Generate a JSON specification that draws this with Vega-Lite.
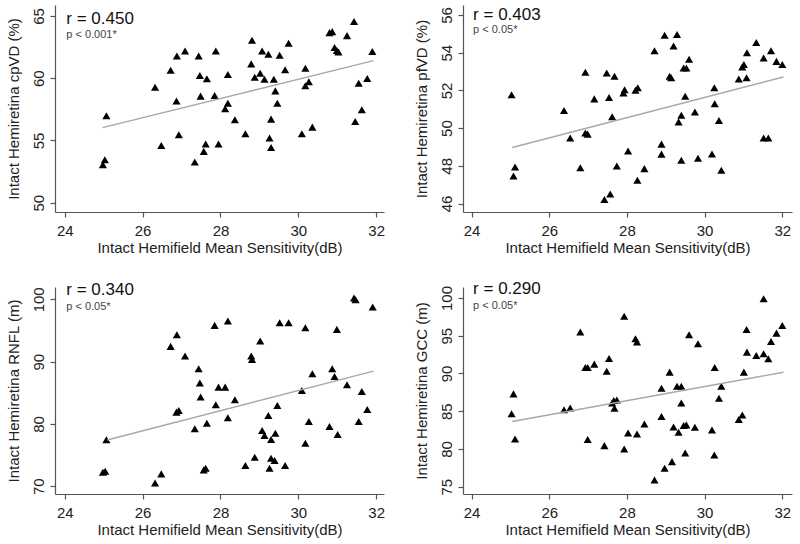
{
  "$schema": "https://vega.github.io/schema/vega-lite/v6.json",
  "padding": {"left": 6, "top": 5, "right": 5, "bottom": 5},
  "background": "white",
  "columns": 2,
  "spacing": {"column": 79, "row": 75},
  "bounds": "flush",
  "datasets": {
    "p1": [
      {"x":25.07,"y":56.98},{"x":25.03,"y":53.45},{"x":24.98,"y":53.05},{"x":26.32,"y":59.28},{"x":26.48,"y":54.6},{"x":26.72,"y":60.64},{"x":26.87,"y":58.16},{"x":26.88,"y":61.79},{"x":26.93,"y":55.45},{"x":27.09,"y":62.19},{"x":27.34,"y":53.26},{"x":27.44,"y":61.79},{"x":27.47,"y":60.21},{"x":27.49,"y":58.56},{"x":27.57,"y":54.12},{"x":27.62,"y":54.71},{"x":27.65,"y":59.95},{"x":27.85,"y":58.61},{"x":27.88,"y":62.19},{"x":27.95,"y":54.71},{"x":28.12,"y":57.54},{"x":28.19,"y":57.99},{"x":28.19,"y":60.29},{"x":28.37,"y":56.66},{"x":28.64,"y":55.53},{"x":28.79,"y":61.15},{"x":28.81,"y":63.05},{"x":28.88,"y":60.08},{"x":29.02,"y":60.4},{"x":29.07,"y":62.19},{"x":29.13,"y":59.92},{"x":29.23,"y":61.93},{"x":29.26,"y":55.19},{"x":29.3,"y":56.71},{"x":29.3,"y":54.44},{"x":29.37,"y":59.92},{"x":29.41,"y":58.98},{"x":29.46,"y":57.99},{"x":29.52,"y":61.84},{"x":29.66,"y":60.67},{"x":29.75,"y":62.81},{"x":30.09,"y":55.53},{"x":30.18,"y":60.8},{"x":30.18,"y":59.39},{"x":30.27,"y":59.71},{"x":30.36,"y":56.07},{"x":30.8,"y":63.66},{"x":30.87,"y":63.74},{"x":30.93,"y":62.46},{"x":30.99,"y":62.22},{"x":31.03,"y":62.1},{"x":31.25,"y":63.42},{"x":31.43,"y":64.55},{"x":31.46,"y":56.52},{"x":31.55,"y":59.6},{"x":31.63,"y":57.46},{"x":31.77,"y":59.97},{"x":31.9,"y":62.14}
    ],
    "p2": [
      {"x":25.03,"y":51.77},{"x":25.12,"y":47.94},{"x":25.08,"y":47.46},{"x":26.38,"y":50.93},{"x":26.54,"y":49.47},{"x":26.8,"y":47.9},{"x":26.93,"y":52.96},{"x":26.93,"y":49.74},{"x":26.99,"y":49.68},{"x":27.16,"y":51.55},{"x":27.42,"y":46.21},{"x":27.48,"y":52.92},{"x":27.54,"y":51.62},{"x":27.57,"y":46.51},{"x":27.62,"y":50.6},{"x":27.68,"y":52.75},{"x":27.74,"y":47.99},{"x":27.91,"y":51.86},{"x":27.94,"y":52.04},{"x":28.03,"y":48.79},{"x":28.22,"y":52.01},{"x":28.28,"y":52.14},{"x":28.27,"y":47.23},{"x":28.45,"y":47.85},{"x":28.71,"y":54.1},{"x":28.89,"y":49.15},{"x":28.89,"y":48.62},{"x":28.97,"y":54.93},{"x":29.1,"y":52.75},{"x":29.14,"y":52.67},{"x":29.2,"y":54.35},{"x":29.29,"y":54.97},{"x":29.33,"y":50.33},{"x":29.4,"y":50.68},{"x":29.4,"y":48.3},{"x":29.46,"y":53.19},{"x":29.53,"y":53.19},{"x":29.5,"y":51.69},{"x":29.6,"y":53.65},{"x":29.75,"y":50.86},{"x":29.83,"y":48.4},{"x":30.19,"y":48.63},{"x":30.25,"y":52.14},{"x":30.26,"y":51.29},{"x":30.37,"y":50.4},{"x":30.43,"y":47.76},{"x":30.88,"y":52.6},{"x":30.97,"y":53.24},{"x":31.01,"y":53.37},{"x":31.08,"y":52.67},{"x":31.09,"y":54.0},{"x":31.33,"y":54.54},{"x":31.52,"y":49.47},{"x":31.64,"y":49.47},{"x":31.52,"y":53.72},{"x":31.71,"y":54.1},{"x":31.85,"y":53.54},{"x":32.0,"y":53.37}
    ],
    "p3": [
      {"x":25.07,"y":77.45},{"x":24.98,"y":72.25},{"x":25.04,"y":72.4},{"x":26.32,"y":70.54},{"x":26.48,"y":71.99},{"x":26.72,"y":92.45},{"x":26.87,"y":81.9},{"x":26.93,"y":82.16},{"x":26.88,"y":94.32},{"x":27.09,"y":90.89},{"x":27.34,"y":79.22},{"x":27.44,"y":88.86},{"x":27.47,"y":86.56},{"x":27.49,"y":84.31},{"x":27.57,"y":72.63},{"x":27.62,"y":72.9},{"x":27.65,"y":80.13},{"x":27.85,"y":95.82},{"x":27.88,"y":83.07},{"x":27.95,"y":85.91},{"x":28.12,"y":85.91},{"x":28.19,"y":80.98},{"x":28.19,"y":96.52},{"x":28.37,"y":83.88},{"x":28.64,"y":73.33},{"x":28.79,"y":90.89},{"x":28.81,"y":90.36},{"x":28.88,"y":74.67},{"x":29.02,"y":93.3},{"x":29.07,"y":78.95},{"x":29.13,"y":78.15},{"x":29.23,"y":81.36},{"x":29.26,"y":72.9},{"x":29.3,"y":77.5},{"x":29.3,"y":74.5},{"x":29.39,"y":74.13},{"x":29.41,"y":78.52},{"x":29.46,"y":82.97},{"x":29.52,"y":96.25},{"x":29.66,"y":73.33},{"x":29.75,"y":96.25},{"x":30.09,"y":85.38},{"x":30.18,"y":76.92},{"x":30.18,"y":95.45},{"x":30.27,"y":80.4},{"x":30.36,"y":88.05},{"x":30.8,"y":79.59},{"x":30.87,"y":88.86},{"x":30.93,"y":87.63},{"x":30.99,"y":95.18},{"x":31.01,"y":78.31},{"x":31.25,"y":86.3},{"x":31.43,"y":100.2},{"x":31.47,"y":99.95},{"x":31.55,"y":80.4},{"x":31.63,"y":85.22},{"x":31.77,"y":82.32},{"x":31.91,"y":98.77}
    ],
    "p4": [
      {"x":25.03,"y":84.65},{"x":25.08,"y":87.3},{"x":25.12,"y":81.33},{"x":26.38,"y":85.18},{"x":26.54,"y":85.44},{"x":26.8,"y":95.49},{"x":26.93,"y":90.8},{"x":26.99,"y":90.8},{"x":26.99,"y":81.24},{"x":27.16,"y":91.24},{"x":27.42,"y":80.44},{"x":27.48,"y":90.31},{"x":27.54,"y":91.99},{"x":27.62,"y":86.1},{"x":27.66,"y":86.42},{"x":27.68,"y":85.4},{"x":27.74,"y":86.5},{"x":27.93,"y":97.57},{"x":27.93,"y":80.0},{"x":28.03,"y":82.12},{"x":28.22,"y":94.6},{"x":28.26,"y":94.16},{"x":28.26,"y":81.99},{"x":28.45,"y":83.32},{"x":28.71,"y":75.88},{"x":28.89,"y":88.05},{"x":28.89,"y":84.29},{"x":28.97,"y":77.43},{"x":29.1,"y":90.18},{"x":29.16,"y":78.32},{"x":29.2,"y":82.9},{"x":29.33,"y":82.21},{"x":29.29,"y":88.32},{"x":29.4,"y":88.32},{"x":29.4,"y":86.1},{"x":29.46,"y":83.1},{"x":29.53,"y":83.19},{"x":29.5,"y":79.47},{"x":29.6,"y":95.13},{"x":29.75,"y":82.88},{"x":29.83,"y":93.94},{"x":30.19,"y":82.52},{"x":30.25,"y":79.2},{"x":30.26,"y":90.8},{"x":30.37,"y":86.73},{"x":30.43,"y":88.32},{"x":30.88,"y":83.89},{"x":30.97,"y":84.51},{"x":31.01,"y":90.18},{"x":31.08,"y":95.84},{"x":31.09,"y":92.83},{"x":31.33,"y":92.39},{"x":31.52,"y":99.91},{"x":31.52,"y":92.61},{"x":31.64,"y":91.95},{"x":31.71,"y":94.25},{"x":31.85,"y":95.35},{"x":32.0,"y":96.37}
    ],
    "f1": [{"x":24.97,"y":56.03},{"x":31.93,"y":61.41}],
    "f2": [{"x":25.05,"y":48.97},{"x":32.03,"y":52.71}],
    "f3": [{"x":25.09,"y":77.43},{"x":31.93,"y":88.47}],
    "f4": [{"x":25.05,"y":83.63},{"x":32.03,"y":90.17}],
    "n1": [{"kind":"r","label":"r = 0.450","x":24.04,"y":64.36},{"kind":"p","label":"p < 0.001*","x":24.04,"y":63.2}],
    "n2": [{"kind":"r","label":"r = 0.403","x":24.04,"y":55.73},{"kind":"p","label":"p < 0.05*","x":24.04,"y":55.02}],
    "n3": [{"kind":"r","label":"r = 0.340","x":24.04,"y":100.74},{"kind":"p","label":"p < 0.05*","x":24.04,"y":98.23}],
    "n4": [{"kind":"r","label":"r = 0.290","x":24.04,"y":100.53},{"kind":"p","label":"p < 0.05*","x":24.04,"y":98.58}]
  },
  "concat": [
    {
      "width": 329, "height": 207,
      "layer": [
        {"data": {"name": "p1"}, "mark": {"type": "point", "shape": "triangle-up", "filled": true, "color": "#000", "opacity": 1, "size": 66},
         "encoding": {
           "x": {"field": "x", "type": "quantitative", "scale": {"domain": [23.75, 32.2], "nice": false, "zero": false}, "axis": {"values": [24,26,28,30,32], "title": "Intact Hemifield Mean Sensitivity(dB)"}},
           "y": {"field": "y", "type": "quantitative", "scale": {"domain": [49.25, 65.88], "nice": false, "zero": false}, "axis": {"values": [50,55,60,65], "title": "Intact Hemiretina cpVD (%)"}}}},
        {"data": {"name": "f1"}, "mark": {"type": "line", "color": "#a8a8a8", "strokeWidth": 1.4},
         "encoding": {"x": {"field": "x", "type": "quantitative"}, "y": {"field": "y", "type": "quantitative"}}},
        {"data": {"name": "n1"}, "transform": [{"filter": "datum.kind == 'r'"}], "mark": {"type": "text", "align": "left", "baseline": "alphabetic", "fontSize": 17, "color": "#111"},
         "encoding": {"x": {"field": "x", "type": "quantitative"}, "y": {"field": "y", "type": "quantitative"}, "text": {"field": "label"}}},
        {"data": {"name": "n1"}, "transform": [{"filter": "datum.kind == 'p'"}], "mark": {"type": "text", "align": "left", "baseline": "alphabetic", "fontSize": 11, "color": "#444"},
         "encoding": {"x": {"field": "x", "type": "quantitative"}, "y": {"field": "y", "type": "quantitative"}, "text": {"field": "label"}}}
      ]
    },
    {
      "width": 329, "height": 207,
      "layer": [
        {"data": {"name": "p2"}, "mark": {"type": "point", "shape": "triangle-up", "filled": true, "color": "#000", "opacity": 1, "size": 66},
         "encoding": {
           "x": {"field": "x", "type": "quantitative", "scale": {"domain": [23.78, 32.25], "nice": false, "zero": false}, "axis": {"values": [24,26,28,30,32], "title": "Intact Hemifield Mean Sensitivity(dB)"}},
           "y": {"field": "y", "type": "quantitative", "scale": {"domain": [45.55, 56.53], "nice": false, "zero": false}, "axis": {"values": [46,48,50,52,54,56], "title": "Intact Hemiretina pfVD (%)"}}}},
        {"data": {"name": "f2"}, "mark": {"type": "line", "color": "#a8a8a8", "strokeWidth": 1.4},
         "encoding": {"x": {"field": "x", "type": "quantitative"}, "y": {"field": "y", "type": "quantitative"}}},
        {"data": {"name": "n2"}, "transform": [{"filter": "datum.kind == 'r'"}], "mark": {"type": "text", "align": "left", "baseline": "alphabetic", "fontSize": 17, "color": "#111"},
         "encoding": {"x": {"field": "x", "type": "quantitative"}, "y": {"field": "y", "type": "quantitative"}, "text": {"field": "label"}}},
        {"data": {"name": "n2"}, "transform": [{"filter": "datum.kind == 'p'"}], "mark": {"type": "text", "align": "left", "baseline": "alphabetic", "fontSize": 11, "color": "#444"},
         "encoding": {"x": {"field": "x", "type": "quantitative"}, "y": {"field": "y", "type": "quantitative"}, "text": {"field": "label"}}}
      ]
    },
    {
      "width": 329, "height": 207,
      "layer": [
        {"data": {"name": "p3"}, "mark": {"type": "point", "shape": "triangle-up", "filled": true, "color": "#000", "opacity": 1, "size": 66},
         "encoding": {
           "x": {"field": "x", "type": "quantitative", "scale": {"domain": [23.75, 32.2], "nice": false, "zero": false}, "axis": {"values": [24,26,28,30,32], "title": "Intact Hemifield Mean Sensitivity(dB)"}},
           "y": {"field": "y", "type": "quantitative", "scale": {"domain": [68.76, 101.98], "nice": false, "zero": false}, "axis": {"values": [70,80,90,100], "title": "Intact Hemiretina RNFL (m)"}}}},
        {"data": {"name": "f3"}, "mark": {"type": "line", "color": "#a8a8a8", "strokeWidth": 1.4},
         "encoding": {"x": {"field": "x", "type": "quantitative"}, "y": {"field": "y", "type": "quantitative"}}},
        {"data": {"name": "n3"}, "transform": [{"filter": "datum.kind == 'r'"}], "mark": {"type": "text", "align": "left", "baseline": "alphabetic", "fontSize": 17, "color": "#111"},
         "encoding": {"x": {"field": "x", "type": "quantitative"}, "y": {"field": "y", "type": "quantitative"}, "text": {"field": "label"}}},
        {"data": {"name": "n3"}, "transform": [{"filter": "datum.kind == 'p'"}], "mark": {"type": "text", "align": "left", "baseline": "alphabetic", "fontSize": 11, "color": "#444"},
         "encoding": {"x": {"field": "x", "type": "quantitative"}, "y": {"field": "y", "type": "quantitative"}, "text": {"field": "label"}}}
      ]
    },
    {
      "width": 329, "height": 207,
      "layer": [
        {"data": {"name": "p4"}, "mark": {"type": "point", "shape": "triangle-up", "filled": true, "color": "#000", "opacity": 1, "size": 66},
         "encoding": {
           "x": {"field": "x", "type": "quantitative", "scale": {"domain": [23.78, 32.25], "nice": false, "zero": false}, "axis": {"values": [24,26,28,30,32], "title": "Intact Hemifield Mean Sensitivity(dB)"}},
           "y": {"field": "y", "type": "quantitative", "scale": {"domain": [74.03, 101.46], "nice": false, "zero": false}, "axis": {"values": [75,80,85,90,95,100], "title": "Intact Hemiretina GCC (m)"}}}},
        {"data": {"name": "f4"}, "mark": {"type": "line", "color": "#a8a8a8", "strokeWidth": 1.4},
         "encoding": {"x": {"field": "x", "type": "quantitative"}, "y": {"field": "y", "type": "quantitative"}}},
        {"data": {"name": "n4"}, "transform": [{"filter": "datum.kind == 'r'"}], "mark": {"type": "text", "align": "left", "baseline": "alphabetic", "fontSize": 17, "color": "#111"},
         "encoding": {"x": {"field": "x", "type": "quantitative"}, "y": {"field": "y", "type": "quantitative"}, "text": {"field": "label"}}},
        {"data": {"name": "n4"}, "transform": [{"filter": "datum.kind == 'p'"}], "mark": {"type": "text", "align": "left", "baseline": "alphabetic", "fontSize": 11, "color": "#444"},
         "encoding": {"x": {"field": "x", "type": "quantitative"}, "y": {"field": "y", "type": "quantitative"}, "text": {"field": "label"}}}
      ]
    }
  ],
  "config": {
    "view": {"stroke": null},
    "font": "Liberation Sans",
    "text": {"font": "Liberation Sans"},
    "axis": {
      "grid": false,
      "domainColor": "#555",
      "domainWidth": 1.2,
      "tickColor": "#555",
      "tickWidth": 1.2,
      "tickSize": 5,
      "labelColor": "#222",
      "titleColor": "#222",
      "labelFont": "Liberation Sans",
      "titleFont": "Liberation Sans",
      "labelFontSize": 15,
      "titleFontSize": 15,
      "titleFontWeight": "normal",
      "labelOverlap": false,
      "labelFlush": false
    },
    "axisX": {"labelPadding": 6, "titlePadding": 2},
    "axisY": {"labelAngle": -90, "labelAlign": "center", "labelBaseline": "bottom", "labelPadding": 4, "titlePadding": 10}
  }
}
